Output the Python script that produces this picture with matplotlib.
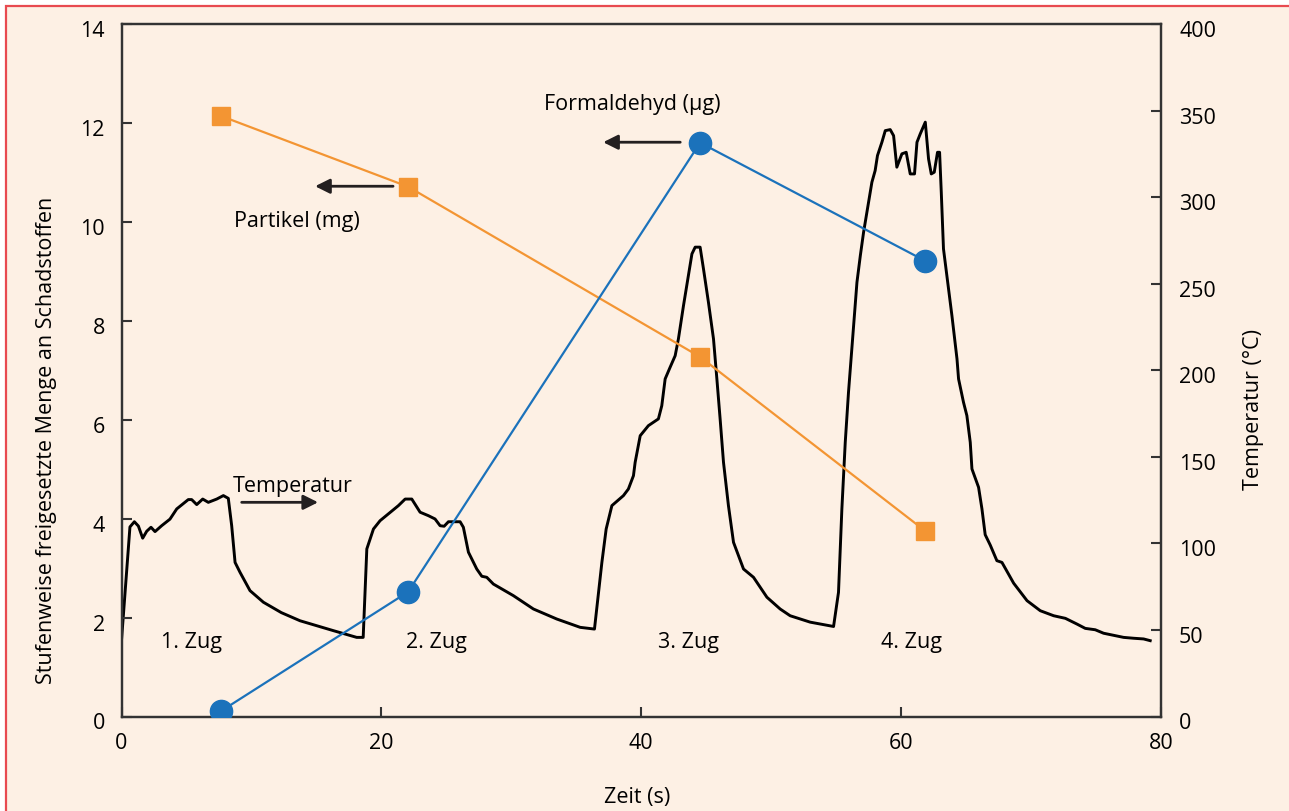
import matplotlib
matplotlib.use("Agg")
import matplotlib.pyplot as plt
from matplotlib.patches import Rectangle
from matplotlib.transforms import ScaledTranslation

# ---------------- data ----------------
zug_time = [7.66, 22.06, 44.53, 61.86]
partikel_mg = [12.14, 10.71, 7.27, 3.75]
formaldehyd_ug = [0.11, 2.52, 11.60, 9.21]

temp_t = [0.0, 0.65, 0.99, 1.3, 1.63, 1.94, 2.27, 2.58, 3.09, 3.73, 4.25, 5.14, 5.4, 5.79,
          6.25, 6.68, 7.33, 7.84, 8.22, 8.48, 8.74, 9.12, 9.89, 10.92, 12.3, 13.74, 16.3,
          18.1, 18.6, 18.88, 19.39, 19.9, 21.31, 21.83, 22.34, 22.98, 23.62, 24.13, 24.52,
          24.83, 25.16, 26.06, 26.31, 26.7, 27.34, 27.73, 28.11, 28.62, 30.16, 31.7, 33.5,
          35.3, 36.4, 36.6, 36.97, 37.3, 37.74, 38.63, 39.01, 39.4, 39.53, 39.92, 40.55,
          41.32, 41.58, 41.84, 42.22, 42.61, 42.86, 43.25, 43.63, 43.9, 44.15, 44.53, 44.79,
          45.17, 45.56, 45.82, 46.07, 46.33, 46.71, 47.1, 47.87, 48.64, 49.67, 50.69, 51.46,
          53.0, 54.8, 55.18, 55.44, 55.7, 55.95, 56.34, 56.6, 56.86, 57.11, 57.37, 57.75,
          58.0, 58.18, 58.52, 58.78, 59.16, 59.42, 59.67, 60.06, 60.39, 60.7, 61.03, 61.22,
          61.47, 61.86, 62.11, 62.32, 62.55, 62.8, 62.96, 63.09, 63.26, 63.52, 63.91, 64.3,
          64.42, 64.8, 65.06, 65.32, 65.45, 65.96, 66.22, 66.47, 66.86, 67.37, 67.76, 68.66,
          69.69, 70.71, 71.74, 72.64, 73.53, 74.17, 74.94, 75.58, 77.12, 77.89, 78.66, 79.17]
temp_c = [44, 109.5, 112.5, 110, 103, 107, 109.3, 106.8, 110.2, 114, 119.9, 125.3, 125.3, 122.4,
          125.6, 123.7, 125.6, 127.6, 126, 110.2, 89, 83.3, 72.7, 66, 60, 55.3, 49.6,
          45.7, 45.7, 96.8, 108.3, 113.1, 121.8, 125.6, 125.6, 118, 116, 114.1, 110.2,
          109.9, 112.5, 112.5, 109.3, 94.9, 85.2, 81, 80.4, 76.5, 69.8, 62.1, 56.3,
          51.5, 50.5, 64, 89, 108.3, 121.8, 127.6, 131.4, 139.1, 146.8, 162.2, 168,
          171.9, 179.5, 195, 201.7, 208.4, 218.1, 237.3, 254.7, 267.2, 271.1, 271.1, 258.5,
          239.3, 218.1, 195, 171.9, 146.8, 121.8, 100.6, 85.2, 80.4, 68.9, 62.1, 58.2,
          54.5, 52, 71.7, 119.9, 158.4, 187.3, 225.8, 250.8, 266.2, 279.7, 291.3, 308.6,
          315.3, 324, 331.7, 338.4, 339, 335.5, 317.3, 325, 325.9, 313.4, 313.4, 331.7,
          336.5, 343.3, 322.1, 313.4, 314.4, 325.9, 325.9, 302.8, 270.1, 254.7, 231.5, 206.5,
          195, 181.5, 173.8, 158.4, 143, 132.4, 119.9, 105, 99, 90, 89, 77,
          66.9, 61.1, 58.2, 56.7, 53.4, 50.9, 50.1, 48.1, 45.7, 45.2, 44.8, 43.8]

zug_labels = ["1. Zug", "2. Zug", "3. Zug", "4. Zug"]
zug_label_x = [5.35, 24.2, 43.6, 60.8]

x_ticks = [0, 20, 40, 60, 80]
y_left_ticks = [0, 2, 4, 6, 8, 10, 12, 14]
y_right_ticks = [0, 50, 100, 150, 200, 250, 300, 350, 400]

# ---------------- style ----------------
plt.rcParams['font.family'] = ['Open Sans', 'DejaVu Sans']
FS = 15.5
BG = '#FDF0E4'
DARK = '#231F20'
ORANGE = '#F39533'
BLUE = '#1B72BB'

W, H = 1289, 812
fig = plt.figure(figsize=(W / 100, H / 100), dpi=100, facecolor='white')
fig.patches.append(Rectangle((6 / W, -0.02), 1.05, 1 - 7 / H + 0.02, transform=fig.transFigure,
                             facecolor=BG, edgecolor='#E84A50', linewidth=1.6, zorder=-10))

left, right, bottom, top = 121.5 / W, 1161 / W, 1 - 717.5 / H, 1 - 25 / H
ax2 = fig.add_axes([left, bottom, right - left, top - bottom])
ax = ax2.twinx()
ax.yaxis.set_label_position('left')
ax.yaxis.tick_left()
ax2.yaxis.set_label_position('right')
ax2.yaxis.tick_right()
ax2.set_facecolor(BG)
ax.patch.set_visible(False)

# temperature (right axis)
ax2.plot(temp_t, temp_c, color='black', lw=2.1, solid_joinstyle='round', zorder=2)
ax2.set_ylim(0, 400)
ax2.set_yticks(y_right_ticks)

# pollutants (left axis)
ax.plot(zug_time, partikel_mg, color=ORANGE, lw=1.6, marker='s', markersize=13.5,
        markeredgecolor=ORANGE, zorder=3)
ax.plot(zug_time, formaldehyd_ug, color=BLUE, lw=1.6, marker='o', markersize=16,
        markeredgecolor=BLUE, zorder=3)
ax.set_ylim(0, 14)
ax.set_yticks(y_left_ticks)
ax.set_xlim(0, 80)
ax.set_xticks(x_ticks)

for a in (ax, ax2):
    for s in a.spines.values():
        s.set_color('#333333')
        s.set_linewidth(1.6)
    a.tick_params(direction='in', length=7, width=1.5, color='#333333',
                  labelsize=FS, labelcolor='black')
ax.tick_params(axis='y', pad=12)
ax.tick_params(axis='x', pad=11)
ax2.tick_params(axis='y', pad=13)
ax2.tick_params(axis='x', pad=11)

shift = ScaledTranslation(0, -4 / 100, fig.dpi_scale_trans)
for lab in ax.get_yticklabels() + ax2.get_yticklabels():
    lab.set_transform(lab.get_transform() + shift)

# labels
fig.text(637 / W, 1 - 798 / H, 'Zeit (s)', fontsize=FS, ha='center', va='center')
fig.text(47 / W, 1 - 440 / H, 'Stufenweise freigesetzte Menge an Schadstoffen', fontsize=FS,
         rotation=90, ha='center', va='center')
fig.text(1253 / W, 1 - 410 / H, 'Temperatur (°C)', fontsize=FS, rotation=90,
         ha='center', va='center')

# annotations
arrow = dict(arrowstyle='-|>', color=DARK, lw=2.0, mutation_scale=22, shrinkA=0, shrinkB=0)
ax.text(39.3, 12.40, 'Formaldehyd (µg)', fontsize=FS, ha='center', va='center')
ax.annotate('', xy=(37.07, 11.61), xytext=(43.0, 11.61), arrowprops=arrow)
ax.text(13.51, 10.02, 'Partikel (mg)', fontsize=FS, ha='center', va='center')
ax.annotate('', xy=(14.9, 10.72), xytext=(20.9, 10.72), arrowprops=arrow)
ax.text(13.2, 4.66, 'Temperatur', fontsize=FS, ha='center', va='center')
ax.annotate('', xy=(15.13, 4.33), xytext=(9.25, 4.33), arrowprops=arrow)

for lx, lab in zip(zug_label_x, zug_labels):
    ax.text(lx, 1.51, lab, fontsize=FS, ha='center', va='center')

fig.savefig('out.png', dpi=100, facecolor='white')
